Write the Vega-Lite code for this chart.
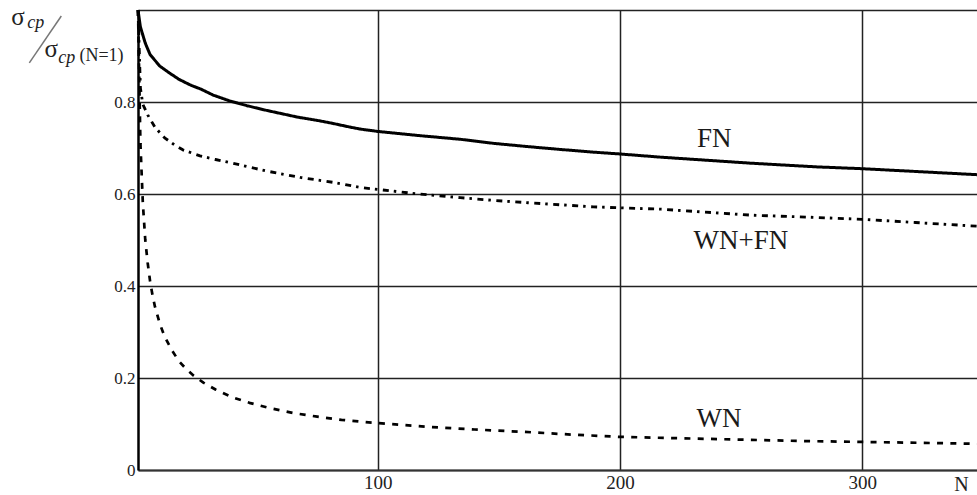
{
  "$schema": "https://vega.github.io/schema/vega-lite/v6.json",
  "width": 839,
  "height": 460,
  "autosize": "none",
  "padding": {"left": 138, "top": 10, "right": 0, "bottom": 25},
  "background": "white",
  "config": {"view": {"stroke": null}, "font": "Liberation Serif"},
  "encoding": {
    "x": {
      "field": "N", "type": "quantitative",
      "scale": {"domain": [1, 347.4], "nice": false, "zero": false},
      "axis": {
        "values": [100, 200, 300], "grid": true, "gridColor": "#222", "gridWidth": 1.5,
        "domain": true, "domainColor": "#333", "domainWidth": 2, "ticks": false,
        "labelFont": "Liberation Serif", "labelFontSize": 19, "labelColor": "#222", "labelPadding": 3,
        "labelFlush": false,
        "title": null
      }
    },
    "y": {
      "field": "value", "type": "quantitative",
      "scale": {"domain": [0, 1], "nice": false, "zero": false},
      "axis": {
        "values": [0, 0.2, 0.4, 0.6, 0.8, 1], "format": ".1~f",
        "labelExpr": "datum.value == 1 ? '' : datum.label",
        "grid": true, "gridColor": "#222", "gridWidth": 1.5,
        "domain": true, "domainColor": "#000", "domainWidth": 2.5, "ticks": false,
        "labelFont": "Liberation Serif", "labelFontSize": 17, "labelColor": "#222", "labelPadding": 3,
        "labelFlush": false,
        "title": null
      }
    }
  },
  "layer": [
    {
      "data": {"values": [
        {"series": "FN", "N": 1, "value": 1.0},
        {"series": "FN", "N": 2, "value": 0.963},
        {"series": "FN", "N": 4, "value": 0.928},
        {"series": "FN", "N": 6, "value": 0.903},
        {"series": "FN", "N": 10, "value": 0.878},
        {"series": "FN", "N": 14, "value": 0.863},
        {"series": "FN", "N": 18, "value": 0.849},
        {"series": "FN", "N": 23, "value": 0.836},
        {"series": "FN", "N": 27, "value": 0.828},
        {"series": "FN", "N": 32, "value": 0.815},
        {"series": "FN", "N": 39, "value": 0.802},
        {"series": "FN", "N": 46, "value": 0.792},
        {"series": "FN", "N": 53, "value": 0.783},
        {"series": "FN", "N": 60, "value": 0.775},
        {"series": "FN", "N": 67, "value": 0.767},
        {"series": "FN", "N": 75, "value": 0.760},
        {"series": "FN", "N": 81, "value": 0.754},
        {"series": "FN", "N": 88, "value": 0.746},
        {"series": "FN", "N": 93, "value": 0.741},
        {"series": "FN", "N": 100, "value": 0.736},
        {"series": "FN", "N": 117, "value": 0.727},
        {"series": "FN", "N": 134, "value": 0.719},
        {"series": "FN", "N": 148, "value": 0.710},
        {"series": "FN", "N": 162, "value": 0.703},
        {"series": "FN", "N": 175, "value": 0.697},
        {"series": "FN", "N": 189, "value": 0.691},
        {"series": "FN", "N": 200, "value": 0.687},
        {"series": "FN", "N": 217, "value": 0.680},
        {"series": "FN", "N": 254, "value": 0.667},
        {"series": "FN", "N": 281, "value": 0.659},
        {"series": "FN", "N": 300, "value": 0.655},
        {"series": "FN", "N": 322, "value": 0.649},
        {"series": "FN", "N": 347.4, "value": 0.642},

        {"series": "WN+FN", "N": 1, "value": 1.0},
        {"series": "WN+FN", "N": 2, "value": 0.83},
        {"series": "WN+FN", "N": 3, "value": 0.795},
        {"series": "WN+FN", "N": 5, "value": 0.772},
        {"series": "WN+FN", "N": 8, "value": 0.745},
        {"series": "WN+FN", "N": 12, "value": 0.722},
        {"series": "WN+FN", "N": 16, "value": 0.707},
        {"series": "WN+FN", "N": 19.5, "value": 0.696},
        {"series": "WN+FN", "N": 26.6, "value": 0.683},
        {"series": "WN+FN", "N": 33, "value": 0.675},
        {"series": "WN+FN", "N": 40, "value": 0.667},
        {"series": "WN+FN", "N": 54, "value": 0.650},
        {"series": "WN+FN", "N": 68, "value": 0.636},
        {"series": "WN+FN", "N": 82, "value": 0.625},
        {"series": "WN+FN", "N": 93, "value": 0.614},
        {"series": "WN+FN", "N": 100, "value": 0.610},
        {"series": "WN+FN", "N": 117, "value": 0.600},
        {"series": "WN+FN", "N": 134, "value": 0.592},
        {"series": "WN+FN", "N": 148, "value": 0.586},
        {"series": "WN+FN", "N": 162, "value": 0.581},
        {"series": "WN+FN", "N": 189, "value": 0.572},
        {"series": "WN+FN", "N": 200, "value": 0.570},
        {"series": "WN+FN", "N": 217, "value": 0.567},
        {"series": "WN+FN", "N": 254, "value": 0.554},
        {"series": "WN+FN", "N": 281, "value": 0.549},
        {"series": "WN+FN", "N": 300, "value": 0.545},
        {"series": "WN+FN", "N": 322, "value": 0.538},
        {"series": "WN+FN", "N": 347.4, "value": 0.530},

        {"series": "WN", "N": 1, "value": 1.0},
        {"series": "WN", "N": 2, "value": 0.71},
        {"series": "WN", "N": 3, "value": 0.58},
        {"series": "WN", "N": 4, "value": 0.50},
        {"series": "WN", "N": 5, "value": 0.45},
        {"series": "WN", "N": 6, "value": 0.41},
        {"series": "WN", "N": 7, "value": 0.38},
        {"series": "WN", "N": 8, "value": 0.355},
        {"series": "WN", "N": 10, "value": 0.318},
        {"series": "WN", "N": 12, "value": 0.29},
        {"series": "WN", "N": 15, "value": 0.26},
        {"series": "WN", "N": 18, "value": 0.236},
        {"series": "WN", "N": 21, "value": 0.219},
        {"series": "WN", "N": 24, "value": 0.205},
        {"series": "WN", "N": 28, "value": 0.19},
        {"series": "WN", "N": 33, "value": 0.175},
        {"series": "WN", "N": 40, "value": 0.158},
        {"series": "WN", "N": 47, "value": 0.146},
        {"series": "WN", "N": 55, "value": 0.135},
        {"series": "WN", "N": 65, "value": 0.124},
        {"series": "WN", "N": 75, "value": 0.116},
        {"series": "WN", "N": 85, "value": 0.109},
        {"series": "WN", "N": 95, "value": 0.104},
        {"series": "WN", "N": 100, "value": 0.102},
        {"series": "WN", "N": 120, "value": 0.094},
        {"series": "WN", "N": 140, "value": 0.088},
        {"series": "WN", "N": 160, "value": 0.083},
        {"series": "WN", "N": 180, "value": 0.077},
        {"series": "WN", "N": 200, "value": 0.072},
        {"series": "WN", "N": 225, "value": 0.069},
        {"series": "WN", "N": 250, "value": 0.066},
        {"series": "WN", "N": 275, "value": 0.063},
        {"series": "WN", "N": 300, "value": 0.061},
        {"series": "WN", "N": 325, "value": 0.059},
        {"series": "WN", "N": 347.4, "value": 0.057}
      ]},
      "mark": {"type": "line", "color": "#000", "strokeCap": "butt", "strokeJoin": "round"},
      "encoding": {
        "detail": {"field": "series", "type": "nominal"},
        "strokeDash": {
          "field": "series", "type": "nominal",
          "scale": {"domain": ["FN", "WN+FN", "WN"], "range": [[1, 0], [6, 5, 2.5, 5.5], [6, 7.3]]},
          "legend": null
        },
        "strokeWidth": {
          "field": "series", "type": "nominal",
          "scale": {"domain": ["FN", "WN+FN", "WN"], "range": [3, 2.7, 2.7]},
          "legend": null
        }
      }
    },
    {
      "data": {"values": [
        {"label": "FN", "N": 238.9, "value": 0.703},
        {"label": "WN+FN", "N": 249.9, "value": 0.480},
        {"label": "WN", "N": 240.9, "value": 0.094}
      ]},
      "mark": {"type": "text", "font": "Liberation Serif", "fontSize": 27, "color": "#1a1a1a", "align": "center", "baseline": "alphabetic"},
      "encoding": {"text": {"field": "label"}}
    },
    {
      "data": {"values": [
        {"label": "N", "N": 341.0, "value": -0.0457}
      ]},
      "mark": {"type": "text", "font": "Liberation Serif", "fontSize": 20, "color": "#222", "align": "center", "baseline": "alphabetic"},
      "encoding": {"text": {"field": "label"}}
    },
    {
      "data": {"values": [
        {"label": "σ", "N": -48.6, "value": 0.967},
        {"label": "σ", "N": -34.8, "value": 0.898}
      ]},
      "mark": {"type": "text", "font": "Liberation Serif", "fontSize": 25, "color": "#222", "align": "center", "baseline": "alphabetic"},
      "encoding": {"text": {"field": "label"}}
    },
    {
      "data": {"values": [
        {"label": "cp", "N": -44.7, "value": 0.960},
        {"label": "cp", "N": -31.9, "value": 0.885}
      ]},
      "mark": {"type": "text", "font": "Liberation Serif", "fontSize": 18, "fontStyle": "italic", "color": "#222", "align": "left", "baseline": "alphabetic"},
      "encoding": {"text": {"field": "label"}}
    },
    {
      "data": {"values": [
        {"label": "(N=1)", "N": -23.2, "value": 0.889}
      ]},
      "mark": {"type": "text", "font": "Liberation Serif", "fontSize": 18, "color": "#222", "align": "left", "baseline": "alphabetic"},
      "encoding": {"text": {"field": "label"}}
    },
    {
      "data": {"values": [
        {"N": -30.66, "value": 0.987, "N2": -43.87, "value2": 0.885}
      ]},
      "mark": {"type": "rule", "color": "#777", "strokeWidth": 1.5},
      "encoding": {"x2": {"field": "N2"}, "y2": {"field": "value2"}}
    }
  ]
}
